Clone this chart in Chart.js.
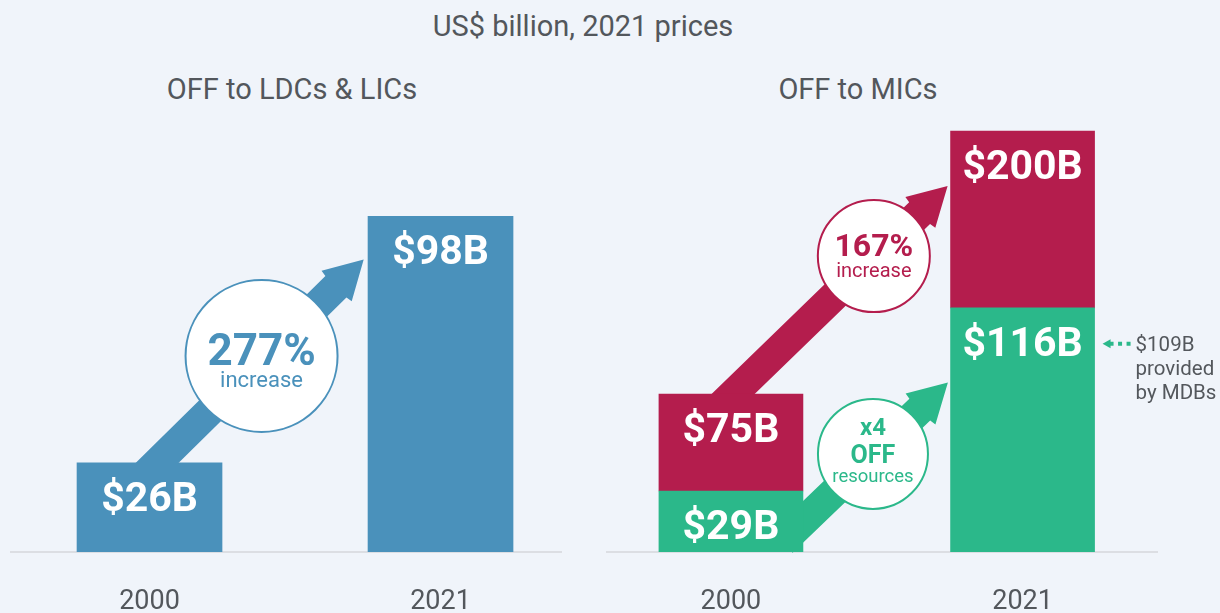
<!DOCTYPE html>
<html>
<head>
<meta charset="utf-8">
<script src="https://cdn.jsdelivr.net/npm/chart.js@4.4.1/dist/chart.umd.min.js"></script>
<style>
  html, body { margin: 0; padding: 0; }
  body { width: 1220px; height: 613px; overflow: hidden; background: #f0f4fa; position: relative; font-family: Roboto, sans-serif; color: #53575c; }
  canvas { position: absolute; top: 0; }
  #leftChart { left: 0; }
  #rightChart { left: 600px; }
  .txt { position: absolute; text-align: center; white-space: nowrap; }
  #title { left: 283px; width: 600px; top: 12px; font-size: 29px; line-height: 29px; }
  .sub { width: 400px; top: 75px; font-size: 29px; line-height: 29px; }
</style>
</head>
<body>
<div id="title" class="txt">US$ billion, 2021 prices</div>
<div class="txt sub" style="left:92px">OFF to LDCs &amp; LICs</div>
<div class="txt sub" style="left:658px">OFF to MICs</div>
<canvas id="leftChart" width="600" height="613"></canvas>
<canvas id="rightChart" width="620" height="613"></canvas>
<script>
// values (US$ billion)
const years = ['2000', '2021'];
const ldcValues = [26, 98];        // OFF to LDCs & LICs
const micMdbValues = [29, 116];    // green part of OFF to MICs
const micOtherValues = [46, 84];   // red part stacked on top
const micTotals = [75, 200];       // printed on the red part

const BLUE = '#4a91bb';
const RED = '#b41d4d';
const GREEN = '#2bb88a';
const GREY = '#53575c';

// white value printed near the top of each bar
const barLabels = {
  id: 'barLabels',
  afterDatasetsDraw(chart) {
    const ctx = chart.ctx;
    ctx.save();
    ctx.font = 'bold 41px Roboto';
    ctx.fillStyle = '#ffffff';
    ctx.textAlign = 'center';
    ctx.textBaseline = 'alphabetic';
    chart.data.datasets.forEach((ds, i) => {
      chart.getDatasetMeta(i).data.forEach((bar, j) => {
        ctx.fillText(ds.valueLabels[j], bar.x, bar.y + 48);
      });
    });
    ctx.restore();
  }
};

function drawArrow(ctx, x1, y1, x2, y2, color) {
  const ang = Math.atan2(y2 - y1, x2 - x1);
  const len = Math.hypot(x2 - x1, y2 - y1) + 30; // tail tucked under the bar
  const shaft = 15, head = 21.5, headL = 38;
  ctx.save();
  ctx.translate(x2, y2);
  ctx.rotate(ang);
  ctx.beginPath();
  ctx.moveTo(0, 0);
  ctx.lineTo(-headL, -head);
  ctx.lineTo(-headL - 1, -shaft);
  ctx.lineTo(-len, -shaft);
  ctx.lineTo(-len, shaft);
  ctx.lineTo(-headL - 1, shaft);
  ctx.lineTo(-headL, head);
  ctx.closePath();
  ctx.fillStyle = color;
  ctx.fill();
  ctx.restore();
}

// arrows + circled notes, positioned in data units of the chart
function growthArrows(items) {
  return {
    id: 'growthArrows',
    beforeDatasetsDraw(chart) {
      const { ctx, scales: { x, y } } = chart;
      items.forEach(a => {
        drawArrow(ctx, x.getPixelForValue(a.from[0]), y.getPixelForValue(a.from[1]),
          x.getPixelForValue(a.to[0]), y.getPixelForValue(a.to[1]), a.color);
      });
      items.forEach(a => {
        const cx = x.getPixelForValue(a.circle[0]);
        const cy = y.getPixelForValue(a.circle[1]);
        ctx.save();
        ctx.beginPath();
        ctx.arc(cx, cy, a.r, 0, Math.PI * 2);
        ctx.fillStyle = '#ffffff';
        ctx.fill();
        ctx.lineWidth = 2;
        ctx.strokeStyle = a.color;
        ctx.stroke();
        ctx.fillStyle = a.color;
        ctx.textAlign = 'center';
        ctx.textBaseline = 'alphabetic';
        a.lines.forEach(l => {
          ctx.font = l.font + ' Roboto';
          ctx.fillText(l.text, cx, cy + l.dy);
        });
        ctx.restore();
      });
    }
  };
}

// small "$109B provided by MDBs" note beside the 2021 green bar
const mdbNote = {
  id: 'mdbNote',
  afterDatasetsDraw(chart) {
    const ctx = chart.ctx;
    const bar = chart.getDatasetMeta(0).data[1];
    const right = bar.x + bar.width / 2;
    const y = bar.y + 36;
    ctx.save();
    ctx.fillStyle = GREEN;
    ctx.beginPath();
    ctx.moveTo(right + 8, y);
    ctx.lineTo(right + 16, y - 4.5);
    ctx.lineTo(right + 16, y + 4.5);
    ctx.closePath();
    ctx.fill();
    ctx.strokeStyle = GREEN;
    ctx.lineWidth = 4;
    ctx.setLineDash([4, 4.5]);
    ctx.beginPath();
    ctx.moveTo(right + 15, y);
    ctx.lineTo(right + 36, y);
    ctx.stroke();
    ctx.fillStyle = GREY;
    ctx.font = '20.5px Roboto';
    ctx.textAlign = 'left';
    ['$109B', 'provided', 'by MDBs'].forEach((t, i) => {
      ctx.fillText(t, right + 41, y + 7.5 + i * 24);
    });
    ctx.restore();
  }
};

function xAxis(min, max) {
  return {
    type: 'linear',
    stacked: true,
    min: min,
    max: max,
    bounds: 'data',
    offset: false,
    grid: { display: false, drawTicks: false },
    border: { display: true, color: '#dcdee3', width: 2 },
    afterBuildTicks: (axis) => { axis.ticks = years.map((_, i) => ({ value: i })); },
    afterFit: (axis) => { axis.height = 61; },
    ticks: {
      padding: 34,
      maxRotation: 0,
      minRotation: 0,
      color: GREY,
      font: { family: 'Roboto', size: 27 },
      callback: (v) => years[v]
    }
  };
}

function build() {
  Chart.defaults.font.family = 'Roboto';

  new Chart(document.getElementById('leftChart'), {
    type: 'bar',
    data: {
      datasets: [{
        data: ldcValues.map((v, i) => ({ x: i, y: v })),
        valueLabels: ldcValues.map(v => '$' + v + 'B'),
        backgroundColor: BLUE,
        barThickness: 145
      }]
    },
    options: {
      responsive: false,
      animation: false,
      devicePixelRatio: 1,
      layout: { padding: { left: 11, right: 39, top: 110, bottom: 0 } },
      plugins: { legend: { display: false }, tooltip: { enabled: false } },
      scales: {
        x: xAxis(-0.476, 1.414),
        y: { display: false, min: 0, max: 129 }
      }
    },
    plugins: [growthArrows([{
      from: [0.026, 26], to: [0.736, 85.4], circle: [0.385, 57.2], r: 76, color: BLUE,
      lines: [{ text: '277%', font: 'bold 44px', dy: 8.5 }, { text: 'increase', font: '22px', dy: 31 }]
    }]), barLabels]
  });

  new Chart(document.getElementById('rightChart'), {
    type: 'bar',
    data: {
      datasets: [{
        data: micMdbValues.map((v, i) => ({ x: i, y: v })),
        valueLabels: micMdbValues.map(v => '$' + v + 'B'),
        backgroundColor: GREEN,
        barThickness: 144
      }, {
        data: micOtherValues.map((v, i) => ({ x: i, y: v })),
        valueLabels: micTotals.map(v => '$' + v + 'B'),
        backgroundColor: RED,
        barThickness: 144
      }]
    },
    options: {
      responsive: false,
      animation: false,
      devicePixelRatio: 1,
      layout: { padding: { left: 7, right: 63, top: 110, bottom: 0 } },
      plugins: { legend: { display: false }, tooltip: { enabled: false } },
      scales: {
        x: xAxis(-0.425, 1.461),
        y: { display: false, stacked: true, min: 0, max: 210 }
      }
    },
    plugins: [growthArrows([{
      from: [0.007, 75], to: [0.743, 173.9], circle: [0.49, 140.6], r: 56, color: RED,
      lines: [{ text: '167%', font: 'bold 32px', dy: 0 }, { text: 'increase', font: '20px', dy: 21 }]
    }, {
      from: [0.25, 14.7], to: [0.744, 80.5], circle: [0.487, 46.6], r: 55, color: GREEN,
      lines: [{ text: 'x4', font: 'bold 24px', dy: -19 }, { text: 'OFF', font: 'bold 25px', dy: 9.5 },
              { text: 'resources', font: '18.5px', dy: 28 }]
    }]), barLabels, mdbNote]
  });
}

Promise.all([
  document.fonts.load('bold 41px Roboto'),
  document.fonts.load('27px Roboto')
]).catch(() => {}).then(build);
</script>
</body>
</html>
